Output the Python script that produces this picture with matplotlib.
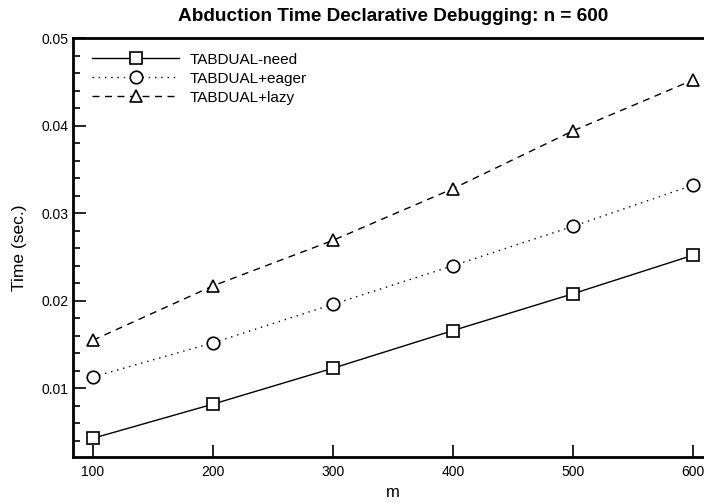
import matplotlib
matplotlib.use('Agg')
import matplotlib.pyplot as plt
from matplotlib.ticker import MultipleLocator

plt.rcParams['font.family'] = ['Liberation Sans', 'DejaVu Sans']

# data
m = [100, 200, 300, 400, 500, 600]
need = [0.0043, 0.0082, 0.0123, 0.0166, 0.0208, 0.0252]
eager = [0.0113, 0.0152, 0.0196, 0.0240, 0.0285, 0.0332]
lazy = [0.0155, 0.0217, 0.0269, 0.0328, 0.0394, 0.0452]

fig = plt.figure(figsize=(7.04, 5.03), dpi=100)
ax = fig.add_axes([73 / 704, 46 / 503, 640 / 704, 419 / 503])

ms = 8.5
ax.plot(m, need, '-', color='black', lw=1, marker='s', ms=ms,
        mfc='white', mec='black', mew=1.2, label='TABDUAL-need')
ax.plot(m, eager, ':', color='black', lw=1, marker='o', ms=ms + 0.5,
        mfc='white', mec='black', mew=1.2, label='TABDUAL+eager', dashes=(1, 3.5))
ax.plot(m, lazy, '--', color='black', lw=1, marker='^', ms=ms + 0.5,
        mfc='white', mec='black', mew=1.2, label='TABDUAL+lazy', dashes=(5, 4))

ax.set_xlim(83.3, 616.7)
ax.set_ylim(0.00216, 0.05)
ax.set_xticks(m)
ax.yaxis.set_major_locator(MultipleLocator(0.01))
ax.yaxis.set_minor_locator(MultipleLocator(0.002))
ax.tick_params(which='both', direction='in', labelsize=10, width=1.2)
ax.tick_params(which='major', length=9)
ax.tick_params(which='minor', length=5)
ax.tick_params(axis='x', pad=6)
for sp in ax.spines.values():
    sp.set_linewidth(2)

ax.set_xlabel('m', fontsize=12, labelpad=4)
ax.set_ylabel('Time (sec.)', fontsize=12.5, labelpad=10)
ax.set_title('Abduction Time Declarative Debugging: n = 600',
             fontsize=13.7, fontweight='bold', pad=12)

ax.legend(loc='upper left', frameon=False, fontsize=11, handlelength=5.7,
          borderaxespad=0.0, labelspacing=0.33, handletextpad=0.65,
          borderpad=0.0, bbox_to_anchor=(0.03, 0.965))

fig.savefig('out.png', dpi=100)
